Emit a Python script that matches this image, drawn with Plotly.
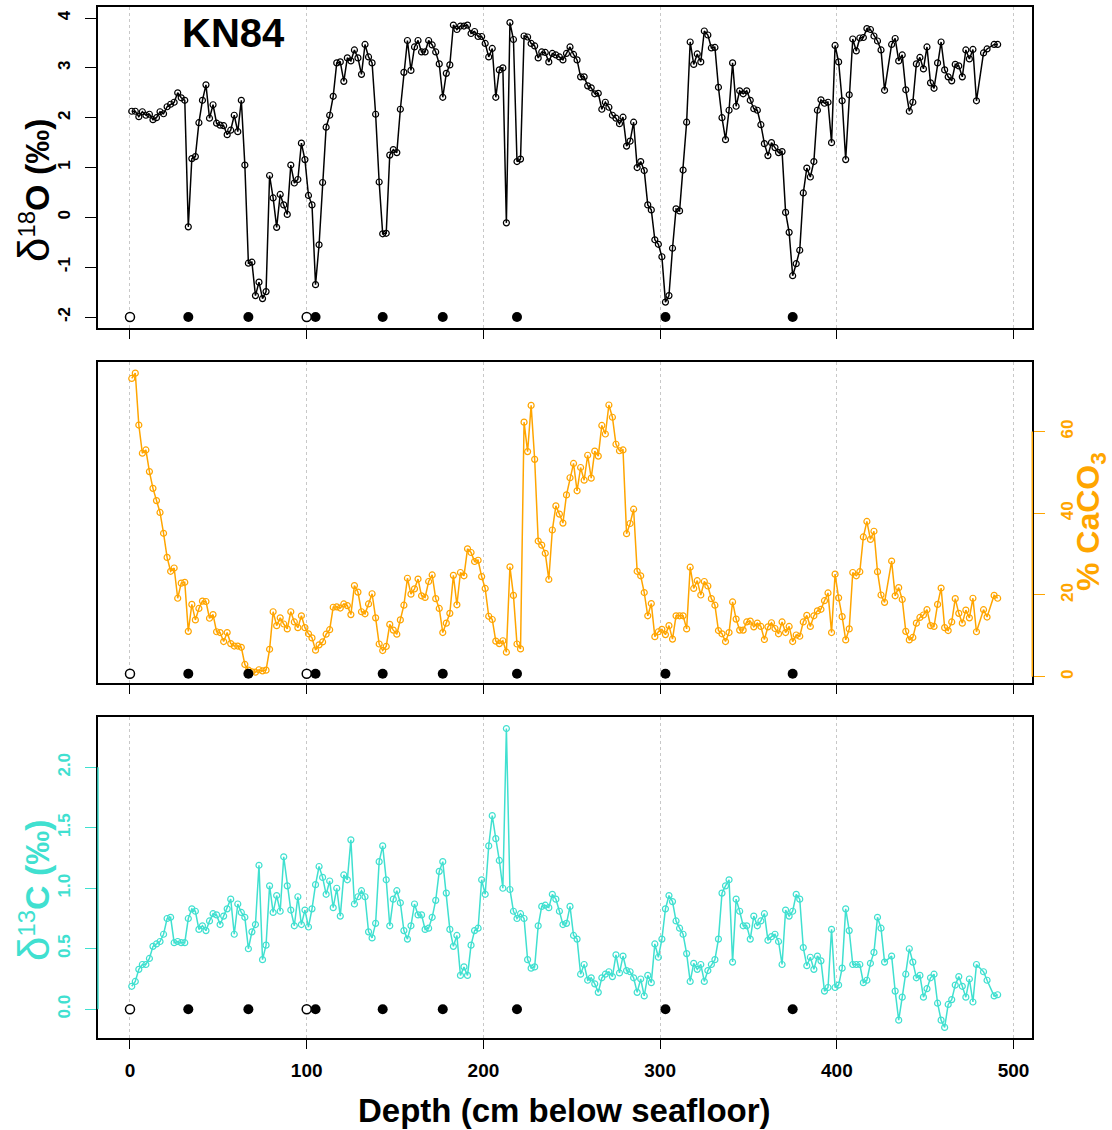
import plotly.graph_objects as go

# ---------------- data ----------------
depth = [1, 3, 5, 7, 9, 11, 13, 15, 17, 19, 21, 23, 25, 27, 29, 31, 33, 35, 37, 39,
         41, 43, 45, 47, 49, 51, 53, 55, 57, 59, 61, 63, 65, 67, 69, 71, 73, 75, 77, 79,
         81, 83, 85, 87, 89, 91, 93, 95, 97, 99, 101, 103, 105, 107, 109, 111, 113, 115, 117, 119,
         121, 123, 125, 127, 129, 131, 133, 135, 137, 139, 141, 143, 145, 147, 149, 151, 153, 155, 157, 159,
         161, 163, 165, 167, 169, 171, 173, 175, 177, 179, 181, 183, 185, 187, 189, 191, 193, 195, 197, 199,
         201, 203, 205, 207, 209, 211, 213, 215, 217, 219, 221, 223, 225, 227, 229, 231, 233, 235, 237, 239,
         241, 243, 245, 247, 249, 251, 253, 255, 257, 259, 261, 263, 265, 267, 269, 271, 273, 275, 277, 279,
         281, 283, 285, 287, 289, 291, 293, 295, 297, 299, 301, 303, 305, 307, 309, 311, 313, 315, 317, 319,
         321, 323, 325, 327, 329, 331, 333, 335, 337, 339, 341, 343, 345, 347, 349, 351, 353, 355, 357, 359,
         361, 363, 365, 367, 369, 371, 373, 375, 377, 379, 381, 383, 385, 387, 389, 391, 393, 395, 397, 399,
         401, 403, 405, 407, 409, 411, 413, 415, 417, 419, 421, 423, 425, 427, 431, 433, 435, 437, 439, 441,
         443, 445, 447, 449, 451, 453, 455, 457, 459, 461, 463, 465, 467, 469, 471, 473, 475, 477, 479, 483,
         485, 489, 491]

d18o = [2.13, 2.13, 2.02, 2.12, 2.05, 2.07, 1.96, 2.00, 2.12, 2.08,
        2.22, 2.27, 2.31, 2.50, 2.40, 2.35, -0.19, 1.18, 1.22, 1.90,
        2.35, 2.66, 1.99, 2.26, 1.89, 1.85, 1.84, 1.66, 1.75, 2.05,
        1.72, 2.35, 1.05, -0.92, -0.90, -1.57, -1.30, -1.63, -1.49, 0.84,
        0.39, -0.20, 0.46, 0.25, 0.06, 1.05, 0.69, 0.76, 1.49, 1.16,
        0.44, 0.25, -1.35, -0.55, 0.70, 1.81, 2.05, 2.43, 3.10, 3.12,
        2.73, 3.20, 3.14, 3.36, 3.20, 2.87, 3.47, 3.22, 3.10, 2.07,
        0.71, -0.33, -0.32, 1.25, 1.36, 1.30, 2.17, 2.91, 3.55, 2.95,
        3.42, 3.55, 3.32, 3.32, 3.55, 3.46, 3.32, 3.08, 2.41, 2.89,
        3.06, 3.86, 3.77, 3.84, 3.84, 3.86, 3.69, 3.73, 3.63, 3.63,
        3.49, 3.22, 3.39, 2.41, 2.96, 3.00, -0.11, 3.91, 3.57, 1.12,
        1.17, 3.64, 3.62, 3.49, 3.44, 3.20, 3.32, 3.31, 3.12, 3.29,
        3.26, 3.22, 3.16, 3.29, 3.42, 3.27, 3.16, 2.82, 2.82, 2.64,
        2.60, 2.48, 2.49, 2.17, 2.31, 2.21, 2.05, 1.99, 1.88, 2.01,
        1.43, 1.53, 1.91, 1.00, 1.12, 0.94, 0.25, 0.15, -0.45, -0.54,
        -0.79, -1.70, -1.57, -0.62, 0.17, 0.13, 0.95, 1.91, 3.52, 3.07,
        3.28, 3.12, 3.74, 3.66, 3.40, 3.41, 2.61, 2.00, 1.56, 2.15,
        3.10, 2.23, 2.54, 2.48, 2.54, 2.35, 2.18, 2.15, 1.86, 1.48,
        1.24, 1.50, 1.40, 1.30, 1.32, 0.10, -0.30, -1.17, -0.93, -0.66,
        0.49, 0.99, 0.81, 1.12, 2.15, 2.36, 2.29, 2.31, 1.50, 3.45,
        3.12, 2.34, 1.16, 2.46, 3.58, 3.34, 3.60, 3.61, 3.79, 3.77,
        3.64, 3.54, 3.36, 2.55, 3.47, 3.59, 3.14, 3.26, 2.56, 2.13,
        2.31, 3.08, 3.21, 2.98, 3.42, 2.70, 2.59, 3.10, 3.52, 2.96,
        2.82, 2.74, 3.07, 3.04, 2.82, 3.36, 3.18, 3.37, 2.34, 3.30,
        3.38, 3.47, 3.47]

caco3 = [73.0, 74.3, 61.6, 54.7, 55.5, 50.2, 46.1, 43.1, 40.2, 35.1,
         29.2, 25.8, 26.6, 19.2, 22.9, 23.1, 11.1, 17.7, 13.9, 16.7,
         18.5, 18.4, 14.3, 15.2, 11.0, 10.8, 8.6, 10.8, 8.1, 7.5,
         7.5, 7.2, 3.0, 1.6, 1.2, 1.1, 1.7, 1.4, 1.6, 6.7,
         15.9, 12.5, 14.4, 12.9, 11.7, 15.9, 13.4, 12.0, 14.9, 12.0,
         10.5, 9.5, 6.5, 7.8, 8.5, 10.4, 11.5, 17.0, 17.1, 16.8,
         17.8, 17.4, 15.2, 22.3, 20.7, 15.9, 15.4, 17.8, 20.3, 14.4,
         8.0, 6.4, 7.4, 12.8, 11.4, 10.4, 13.9, 17.5, 24.1, 20.2,
         21.5, 23.9, 19.8, 19.4, 23.3, 24.9, 19.1, 16.7, 10.8, 13.1,
         15.5, 24.8, 17.6, 25.5, 24.7, 31.3, 30.4, 28.2, 28.5, 24.5,
         21.6, 14.8, 14.0, 8.7, 8.1, 8.8, 6.0, 26.9, 19.9, 8.0,
         6.8, 62.3, 55.1, 66.4, 53.2, 33.2, 32.2, 30.2, 23.8, 35.9,
         41.8, 39.8, 37.6, 44.5, 48.7, 52.2, 45.5, 51.2, 48.1, 54.2,
         48.6, 55.2, 54.0, 61.5, 59.4, 66.5, 63.5, 56.9, 55.3, 55.5,
         35.0, 37.5, 41.0, 25.8, 24.7, 20.6, 14.9, 17.9, 9.8, 11.0,
         11.6, 10.3, 12.5, 9.2, 14.9, 14.9, 14.9, 11.7, 26.8, 21.6,
         23.5, 20.0, 23.3, 22.2, 19.1, 17.5, 11.3, 10.5, 8.6, 10.8,
         18.3, 14.1, 11.4, 11.4, 13.4, 13.6, 12.2, 13.1, 12.3, 9.1,
         12.2, 13.2, 11.8, 10.5, 13.4, 10.8, 12.3, 8.6, 10.2, 9.9,
         13.4, 15.0, 12.3, 14.9, 16.1, 16.5, 18.6, 20.5, 10.8, 25.1,
         19.3, 14.7, 9.0, 11.7, 25.5, 24.7, 25.7, 34.2, 38.0, 33.6,
         35.6, 25.7, 20.0, 18.2, 28.3, 19.8, 21.8, 18.9, 11.1, 9.0,
         9.6, 13.1, 14.5, 15.1, 16.4, 12.5, 12.3, 17.7, 21.7, 12.0,
         11.3, 13.4, 19.1, 15.5, 13.1, 16.3, 14.4, 19.2, 11.0, 16.4,
         14.6, 19.9, 19.2]

d13c = [0.19, 0.23, 0.33, 0.37, 0.37, 0.42, 0.52, 0.54, 0.56, 0.62,
        0.75, 0.76, 0.55, 0.56, 0.55, 0.55, 0.75, 0.83, 0.81, 0.66,
        0.69, 0.65, 0.73, 0.79, 0.78, 0.70, 0.77, 0.83, 0.91, 0.62,
        0.87, 0.80, 0.76, 0.50, 0.64, 0.70, 1.19, 0.41, 0.53, 1.02,
        0.80, 0.94, 0.81, 1.26, 1.02, 0.82, 0.69, 0.93, 0.70, 0.82,
        0.68, 0.83, 1.03, 1.18, 1.09, 0.95, 1.06, 0.84, 1.00, 0.77,
        1.11, 1.07, 1.40, 0.87, 0.93, 0.98, 0.93, 0.64, 0.59, 0.71,
        1.22, 1.35, 1.07, 0.69, 0.91, 0.98, 0.88, 0.65, 0.58, 0.69,
        0.87, 0.78, 0.78, 0.66, 0.67, 0.76, 0.90, 1.14, 1.22, 0.96,
        0.66, 0.52, 0.61, 0.28, 0.35, 0.28, 0.53, 0.65, 0.67, 1.07,
        0.95, 1.35, 1.60, 1.41, 1.23, 1.00, 2.32, 0.99, 0.81, 0.75,
        0.79, 0.75, 0.41, 0.34, 0.35, 0.69, 0.85, 0.86, 0.84, 0.95,
        0.91, 0.81, 0.70, 0.71, 0.85, 0.61, 0.58, 0.29, 0.37, 0.24,
        0.26, 0.21, 0.14, 0.26, 0.29, 0.31, 0.27, 0.45, 0.30, 0.44,
        0.32, 0.31, 0.26, 0.14, 0.25, 0.11, 0.28, 0.22, 0.54, 0.43,
        0.58, 0.83, 0.94, 0.89, 0.73, 0.67, 0.62, 0.46, 0.23, 0.38,
        0.33, 0.37, 0.23, 0.32, 0.37, 0.41, 0.58, 0.96, 1.02, 1.07,
        0.39, 0.91, 0.81, 0.69, 0.69, 0.58, 0.77, 0.69, 0.73, 0.79,
        0.57, 0.60, 0.62, 0.56, 0.37, 0.82, 0.77, 0.81, 0.95, 0.91,
        0.51, 0.36, 0.43, 0.33, 0.44, 0.40, 0.15, 0.18, 0.66, 0.18,
        0.20, 0.34, 0.83, 0.65, 0.37, 0.37, 0.37, 0.22, 0.24, 0.38,
        0.47, 0.76, 0.67, 0.39, 0.44, 0.15, -0.09, 0.10, 0.29, 0.50,
        0.39, 0.26, 0.28, 0.10, 0.17, 0.26, 0.29, 0.05, -0.09, -0.15,
        0.04, 0.08, 0.20, 0.27, 0.19, 0.10, 0.25, 0.06, 0.37, 0.31,
        0.24, 0.11, 0.12]

# age-control points
age_depth = [0, 33, 67, 100, 105, 143, 177, 219, 303, 375]
age_open = [True, False, False, True, False, False, False, False, False, False]
age_level_d18o = -2.0
age_level_caco3 = 0.7
age_level_d13c = 0.0

x_ticks = [0, 100, 200, 300, 400, 500]
x_ticktext = ["0", "100", "200", "300", "400", "500"]
d18o_ticks = [-2, -1, 0, 1, 2, 3, 4]
d18o_ticktext = ["-2", "-1", "0", "1", "2", "3", "4"]
caco3_ticks = [0, 20, 40, 60]
caco3_ticktext = ["0", "20", "40", "60"]
d13c_ticks = [0.0, 0.5, 1.0, 1.5, 2.0]
d13c_ticktext = ["0.0", "0.5", "1.0", "1.5", "2.0"]

# ---------------- style ----------------
W, H = 1112, 1130
FONT = "Liberation Sans, Arial, Helvetica, sans-serif"
BLACK = "#000000"
ORANGE = "#FFA500"
TURQ = "#40E0D0"
GRID = "#C8C8C8"

XL, XR = 98.0, 1032.3
x_dom = [XL / W, XR / W]
x_range = [-18.1, 510.6]


def ydom(top_px, bot_px):
    return [1 - bot_px / H, 1 - top_px / H]


fig = go.Figure()


def add_series(x, y, xa, ya, color):
    fig.add_trace(go.Scatter(
        x=x, y=y, xaxis=xa, yaxis=ya, mode="lines+markers",
        line=dict(color=color, width=1.5),
        marker=dict(symbol="circle-open", size=6, color=color, line=dict(width=1.2, color=color)),
        showlegend=False, hoverinfo="x+y"))


def add_age(level, xa, ya):
    fx = [d for d, o in zip(age_depth, age_open) if not o]
    ox = [d for d, o in zip(age_depth, age_open) if o]
    fig.add_trace(go.Scatter(x=fx, y=[level] * len(fx), xaxis=xa, yaxis=ya, mode="markers",
                             marker=dict(symbol="circle", size=10, color=BLACK),
                             showlegend=False, hoverinfo="x"))
    fig.add_trace(go.Scatter(x=ox, y=[level] * len(ox), xaxis=xa, yaxis=ya, mode="markers",
                             marker=dict(symbol="circle", size=9, color="white",
                                         line=dict(color=BLACK, width=1.5)),
                             showlegend=False, hoverinfo="x"))


add_series(depth, d18o, "x", "y", BLACK)
add_age(age_level_d18o, "x", "y")
add_series(depth, caco3, "x2", "y2", ORANGE)
add_age(age_level_caco3, "x2", "y2")
add_series(depth, d13c, "x3", "y3", TURQ)
add_age(age_level_d13c, "x3", "y3")


def xaxis(anchor, labels):
    return dict(domain=x_dom, range=x_range, anchor=anchor,
                tickmode="array", tickvals=x_ticks, ticktext=x_ticktext,
                ticks="outside", ticklen=10, tickwidth=1, tickcolor=BLACK,
                showticklabels=labels, ticklabelstandoff=5,
                tickfont=dict(family=FONT, size=19, color=BLACK, weight="bold"),
                showline=True, mirror=True, linecolor=BLACK, linewidth=1.5,
                showgrid=True, gridcolor=GRID, gridwidth=1, griddash="3px,3px",
                zeroline=False)


def yaxis(anchor, dom, rng, tv, tt, color, side="left"):
    return dict(domain=dom, range=rng, anchor=anchor, side=side,
                tickmode="array", tickvals=tv, ticktext=tt,
                ticks="outside", ticklen=11, tickwidth=1, tickcolor=color,
                tickangle=-90, ticklabelstandoff=8,
                tickfont=dict(family=FONT, size=17, color=color, weight="bold"),
                showline=True, mirror=True, linecolor=BLACK, linewidth=1.5,
                showgrid=False, zeroline=False)


fig.update_layout(
    width=W, height=H, margin=dict(l=0, r=0, t=0, b=0),
    paper_bgcolor="white", plot_bgcolor="white", showlegend=False,
    font=dict(family=FONT, color=BLACK),
    xaxis=xaxis("y", False),
    xaxis2=xaxis("y2", False),
    xaxis3=xaxis("y3", True),
    yaxis=yaxis("x", ydom(6.7, 327.7), [-2.214, 4.228], d18o_ticks, d18o_ticktext, BLACK),
    yaxis2=yaxis("x2", ydom(361.7, 682.7), [-1.47, 77.1], caco3_ticks, caco3_ticktext, ORANGE, side="right"),
    yaxis3=yaxis("x3", ydom(716.7, 1037.7), [-0.235, 2.418], d13c_ticks, d13c_ticktext, TURQ),
)

# coloured axis spines spanning the tick range (R style)
fig.add_shape(type="line", xref="paper", yref="y2", x0=XR / W, x1=XR / W,
              y0=caco3_ticks[0], y1=caco3_ticks[-1], line=dict(color=ORANGE, width=1.5), layer="above")
fig.add_shape(type="line", xref="paper", yref="y3", x0=XL / W, x1=XL / W,
              y0=d13c_ticks[0], y1=d13c_ticks[-1], line=dict(color=TURQ, width=1.5), layer="above")

# titles
fig.add_annotation(text="<b>KN84</b>", x=233 / W, y=1 - 33 / H, xref="paper", yref="paper",
                   showarrow=False, xanchor="center", yanchor="middle",
                   font=dict(family=FONT, size=40, color=BLACK))
fig.add_annotation(text="<span style='font-size:44px'>δ</span><sup>18</sup><b>O (‰)</b>",
                   x=33 / W, y=1 - 190 / H, xref="paper", yref="paper",
                   showarrow=False, textangle=-90, xanchor="center", yanchor="middle",
                   font=dict(family=FONT, size=34, color=BLACK))
fig.add_annotation(text="<b>% CaCO<sub>3</sub></b>", x=1090 / W, y=1 - 522 / H, xref="paper", yref="paper",
                   showarrow=False, textangle=-90, xanchor="center", yanchor="middle",
                   font=dict(family=FONT, size=32, color=ORANGE))
fig.add_annotation(text="<span style='font-size:44px'>δ</span><sup>13</sup><b>C (‰)</b>",
                   x=33 / W, y=1 - 890 / H, xref="paper", yref="paper",
                   showarrow=False, textangle=-90, xanchor="center", yanchor="middle",
                   font=dict(family=FONT, size=34, color=TURQ))
fig.add_annotation(text="<b>Depth (cm below seafloor)</b>", x=564 / W, y=1 - 1110 / H, xref="paper", yref="paper",
                   showarrow=False, xanchor="center", yanchor="middle",
                   font=dict(family=FONT, size=33, color=BLACK))

fig.write_html("out.html")
